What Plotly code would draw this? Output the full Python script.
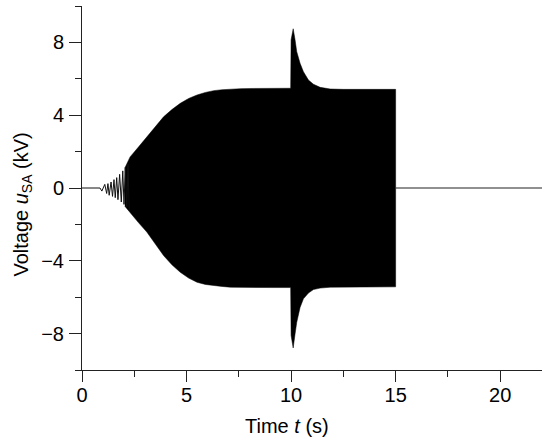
import plotly.graph_objects as go

# ---- data ----
# Upper envelope of the oscillating voltage (kV)
env_t_upper = [2.05, 2.3, 2.7, 3.1, 3.5, 3.9, 4.3, 4.7, 5.1, 5.5, 5.9, 6.3, 6.7, 7.1, 7.6, 8.2, 9.0, 9.98,
               10.0, 10.1, 10.19, 10.27, 10.43, 10.59, 10.83, 11.07, 11.39, 11.87, 12.5, 15.0]
env_v_upper = [1.1, 1.71, 2.25, 2.81, 3.38, 3.91, 4.31, 4.65, 4.92, 5.11, 5.25, 5.35, 5.40, 5.44, 5.46, 5.47, 5.48, 5.48,
               8.14, 8.75, 8.14, 7.49, 6.85, 6.39, 5.93, 5.70, 5.53, 5.44, 5.42, 5.42]
# Lower envelope
env_t_lower = [2.05, 2.3, 2.7, 3.1, 3.5, 3.9, 4.3, 4.7, 5.1, 5.5, 5.9, 6.3, 6.7, 7.1, 7.6, 8.2, 9.0, 9.98,
               10.0, 10.1, 10.19, 10.27, 10.43, 10.59, 10.83, 11.07, 11.39, 11.87, 12.5, 15.0]
env_v_lower = [-1.0, -1.38, -1.9, -2.42, -3.08, -3.71, -4.22, -4.63, -4.95, -5.18, -5.30, -5.36, -5.41, -5.45, -5.46, -5.47, -5.47, -5.47,
               -8.1, -8.79, -8.02, -7.38, -6.56, -6.09, -5.77, -5.58, -5.50, -5.45, -5.43, -5.43]
# Start-up ringing (individual swings visible in the picture)
ring_t = [0.0, 0.86, 0.95, 1.09, 1.18, 1.24, 1.30, 1.39, 1.46, 1.53, 1.59, 1.66, 1.72, 1.80, 1.88, 1.95, 2.01, 2.07, 2.14, 2.20, 2.26]
ring_v = [0.0, 0.0, -0.17, 0.20, -0.30, 0.24, -0.40, 0.33, -0.46, 0.46, -0.53, 0.57, -0.64, 0.75, -0.77, 0.94, -0.90, 1.12, -1.05, 1.30, -1.20]
# After switch-off
tail_t = [15.0, 22.0]
tail_v = [0.0, 0.0]

x_ticks = [0, 5, 10, 15, 20]
y_ticks = [-8, -4, 0, 4, 8]

FONT = "Liberation Sans, Arial, sans-serif"
FS = 20

fig = go.Figure()

poly_x = env_t_upper + env_t_lower[::-1]
poly_y = env_v_upper + env_v_lower[::-1]
fig.add_trace(go.Scatter(x=poly_x, y=poly_y, mode="lines", fill="toself",
                         fillcolor="black", line=dict(color="black", width=0.5),
                         hoverinfo="skip", showlegend=False))
fig.add_trace(go.Scatter(x=ring_t, y=ring_v, mode="lines",
                         line=dict(color="#111111", width=1), showlegend=False))
fig.add_trace(go.Scatter(x=tail_t, y=tail_v, mode="lines",
                         line=dict(color="#222222", width=1.2), showlegend=False))

fig.update_layout(
    width=550, height=442,
    margin=dict(l=82, r=8, t=6, b=72),
    paper_bgcolor="white", plot_bgcolor="white",
    font=dict(family=FONT, size=FS, color="black"),
    showlegend=False,
)
fig.update_xaxes(range=[0, 22], tickvals=x_ticks, ticktext=[str(v) for v in x_ticks],
                 showgrid=False, zeroline=False, showline=True, linecolor="#222222", linewidth=1,
                 ticks="outside", ticklen=11, tickwidth=1, tickcolor="#222222",
                 minor=dict(tickvals=[2.5, 7.5, 12.5, 17.5], ticks="outside", ticklen=6, tickcolor="#222222"),
                 tickfont=dict(size=FS), ticklabelstandoff=-4)
fig.update_yaxes(range=[-10, 10], tickvals=y_ticks, ticktext=[("−" + str(-v)) if v < 0 else str(v) for v in y_ticks],
                 showgrid=False, zeroline=False, showline=True, linecolor="#222222", linewidth=1,
                 ticks="outside", ticklen=12, tickwidth=1, tickcolor="#222222",
                 minor=dict(tickvals=[-10, -6, -2, 2, 6, 10], ticks="outside", ticklen=6, tickcolor="#222222"),
                 tickfont=dict(size=FS), ticklabelstandoff=1)

fig.add_annotation(text="Time <i>t</i> (s)", xref="paper", yref="paper",
                   x=0.446, y=-0.153, xanchor="center", yanchor="middle",
                   showarrow=False, font=dict(size=FS))
fig.add_annotation(text="Voltage <i>u</i><sub>SA</sub> (kV)", xref="paper", yref="paper",
                   x=-0.13, y=0.455, xanchor="center", yanchor="middle", textangle=-90,
                   showarrow=False, font=dict(size=FS))

fig.write_html("out.html", config={"displayModeBar": False},
               post_script="document.body.style.margin='0';document.body.style.padding='0';")
